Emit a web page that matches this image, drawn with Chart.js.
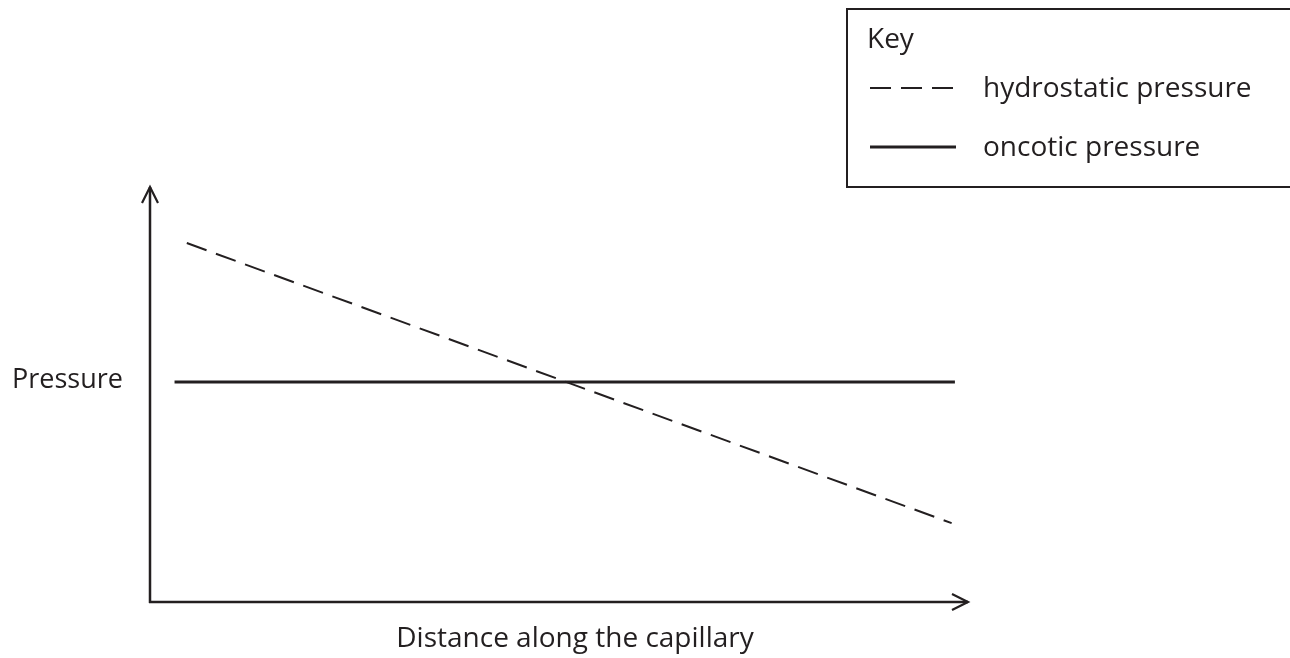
<!DOCTYPE html>
<html>
<head>
<meta charset="utf-8">
<script src="https://cdn.jsdelivr.net/npm/chart.js@4.4.1/dist/chart.umd.min.js"></script>
<style>
  html, body { margin: 0; padding: 0; background: #fff; }
  #wrap { width: 1290px; height: 658px; }
</style>
</head>
<body>
<div id="wrap"><canvas id="chart" width="1290" height="658"></canvas></div>
<script>
// Datos (escala arbitraria 0-100)
const hydroDistance = [4.5, 98];
const hydroPressure = [86.5, 19];
const oncoDistance = [3, 98.4];
const oncoPressure = [53, 53];

const xTitle = 'Distance along the capillary';
const yTitle = 'Pressure';
const keyTitle = 'Key';
const seriesNames = ['hydrostatic pressure', 'oncotic pressure'];

const ink = '#231f20';
const font = '28px "Open Sans", sans-serif';

// Ejes con flechas, títulos y la caja "Key"
const diagramPlugin = {
  id: 'diagram',
  afterDraw(chart) {
    const ctx = chart.ctx;
    const a = chart.chartArea;
    const x0 = chart.scales.x.getPixelForValue(0);
    const y0 = chart.scales.y.getPixelForValue(0);
    ctx.save();
    ctx.strokeStyle = ink;
    ctx.lineWidth = 2.5;
    ctx.lineCap = 'butt';
    ctx.setLineDash([]);
    // eje y
    ctx.beginPath();
    ctx.moveTo(x0, y0 + 1);
    ctx.lineTo(x0, a.top);
    ctx.stroke();
    // eje x
    ctx.beginPath();
    ctx.moveTo(x0 - 1, y0);
    ctx.lineTo(a.right, y0);
    ctx.stroke();
    // puntas de flecha
    ctx.lineWidth = 2.2;
    ctx.beginPath();
    ctx.moveTo(x0 - 8, a.top + 16);
    ctx.lineTo(x0, a.top);
    ctx.lineTo(x0 + 8, a.top + 16);
    ctx.moveTo(a.right - 16, y0 - 8);
    ctx.lineTo(a.right, y0);
    ctx.lineTo(a.right - 16, y0 + 8);
    ctx.stroke();

    // títulos
    ctx.fillStyle = ink;
    ctx.textBaseline = 'alphabetic';
    ctx.textAlign = 'left';
    ctx.font = '27px "Open Sans", sans-serif';
    ctx.fillText(yTitle, 12, 388);
    ctx.font = font;
    ctx.textAlign = 'center';
    ctx.fillText(xTitle, 575, 647);

    // caja de la leyenda
    ctx.lineWidth = 2;
    ctx.strokeRect(847, 9, 460, 178);
    ctx.textAlign = 'left';
    ctx.fillText(keyTitle, 867, 48);
    const rows = [97, 156];
    chart.data.datasets.forEach((ds, i) => {
      const ly = rows[i] - 9;
      ctx.lineWidth = ds.borderWidth;
      ctx.setLineDash(ds.borderDash || []);
      ctx.beginPath();
      ctx.moveTo(870, ly);
      ctx.lineTo(956, ly);
      ctx.stroke();
      ctx.setLineDash([]);
      ctx.fillText(seriesNames[i], 983, rows[i]);
    });
    ctx.restore();
  }
};

new Chart(document.getElementById('chart'), {
  type: 'line',
  data: {
    datasets: [
      {
        label: seriesNames[0],
        data: hydroDistance.map((d, i) => ({ x: d, y: hydroPressure[i] })),
        borderColor: ink,
        borderWidth: 2,
        borderDash: [21, 10],
        pointRadius: 0,
        fill: false
      },
      {
        label: seriesNames[1],
        data: oncoDistance.map((d, i) => ({ x: d, y: oncoPressure[i] })),
        borderColor: ink,
        borderWidth: 3,
        pointRadius: 0,
        fill: false
      }
    ]
  },
  options: {
    responsive: false,
    animation: false,
    layout: {
      padding: { left: 150, right: 322, top: 187, bottom: 56 }
    },
    plugins: {
      legend: { display: false },
      tooltip: { enabled: false }
    },
    scales: {
      x: { type: 'linear', min: 0, max: 100, display: false },
      y: { type: 'linear', min: 0, max: 100, display: false }
    }
  },
  plugins: [diagramPlugin]
});
</script>
</body>
</html>
